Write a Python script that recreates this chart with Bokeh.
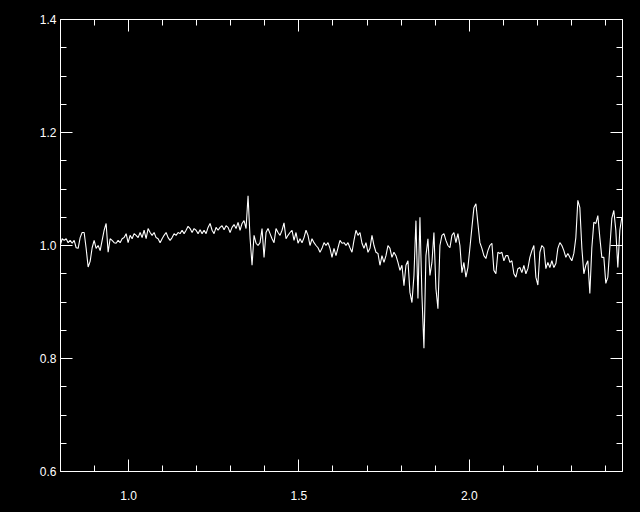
import numpy as np
from bokeh.plotting import figure
from bokeh.models import Range1d, LinearAxis, FixedTicker, PrintfTickFormatter, CustomJSTickFormatter
from bokeh.embed import file_html
from bokeh.resources import INLINE

# ---- data ----
wave_start = 0.799
wave_end = 2.448
flux = [
    1.000, 1.012, 1.009, 1.012, 1.005, 1.009, 1.004, 1.009, 0.996, 0.995,
    1.014, 1.023, 1.023, 0.995, 0.962, 0.972, 0.996, 1.009, 0.995, 1.000,
    0.991, 1.009, 1.027, 1.039, 0.988, 1.012, 1.009, 1.005, 1.004, 1.009,
    1.005, 1.012, 1.014, 1.021, 1.005, 1.018, 1.012, 1.021, 1.018, 1.014,
    1.023, 1.014, 1.027, 1.012, 1.030, 1.023, 1.018, 1.023, 1.014, 1.012,
    1.005, 1.012, 1.018, 1.023, 1.014, 1.009, 1.014, 1.021, 1.018, 1.023,
    1.021, 1.027, 1.021, 1.027, 1.034, 1.030, 1.023, 1.030, 1.027, 1.021,
    1.028, 1.021, 1.027, 1.021, 1.032, 1.039, 1.027, 1.021, 1.032, 1.027,
    1.032, 1.035, 1.028, 1.035, 1.032, 1.023, 1.032, 1.037, 1.030, 1.041,
    1.027, 1.039, 1.044, 1.030, 1.088, 1.014, 0.965, 1.018, 1.004, 1.000,
    1.005, 1.030, 0.979, 1.023, 1.030, 1.021, 1.012, 1.005, 1.030, 1.023,
    1.018, 1.027, 1.040, 1.012, 1.018, 1.023, 1.027, 1.009, 1.023, 1.004,
    1.012, 1.005, 1.014, 1.027, 1.018, 1.000, 1.012, 1.005, 1.000, 0.996,
    0.988, 0.995, 1.005, 1.000, 1.005, 0.995, 0.979, 0.995, 0.982, 0.996,
    1.009, 1.004, 1.005, 1.000, 1.005, 0.996, 0.988, 1.009, 1.027, 1.018,
    1.023, 1.004, 0.995, 1.005, 0.988, 0.995, 1.018, 1.000, 0.988, 0.986,
    0.965, 0.982, 0.970, 0.982, 1.000, 0.995, 0.979, 0.988, 0.982, 0.970,
    0.956, 0.965, 0.929, 0.965, 0.973, 0.917, 0.899, 0.947, 1.044, 0.906,
    1.050, 0.912, 0.818, 0.982, 1.012, 0.947, 0.970, 1.023, 0.924, 0.888,
    1.000, 1.018, 1.021, 1.009, 1.000, 0.996, 1.018, 1.023, 1.005, 1.021,
    1.000, 0.952, 0.970, 0.944, 0.961, 0.996, 1.032, 1.067, 1.074, 1.039,
    1.005, 0.995, 0.982, 0.977, 0.991, 1.000, 1.004, 0.956, 0.950, 0.988,
    0.986, 0.988, 0.973, 0.982, 0.982, 0.970, 0.973, 0.950, 0.944, 0.959,
    0.961, 0.952, 0.965, 0.950, 0.959, 0.979, 0.991, 1.000, 0.944, 0.930,
    0.988, 1.000, 0.996, 0.959, 0.970, 0.961, 0.973, 0.961, 0.968, 0.995,
    1.005, 1.000, 0.991, 0.979, 0.986, 0.979, 0.973, 0.986, 1.014, 1.080,
    1.067, 0.996, 0.950, 0.965, 0.973, 0.915, 0.996, 1.041, 1.039, 1.053,
    1.014, 0.979, 0.979, 0.933, 0.944, 0.996, 1.048, 1.062, 1.027, 0.961,
    1.027, 1.050,
]
wavelength = np.linspace(wave_start, wave_end, len(flux))

x_major = [1.0, 1.5, 2.0]
x_minor = [0.8, 0.9, 1.1, 1.2, 1.3, 1.4, 1.6, 1.7, 1.8, 1.9, 2.1, 2.2, 2.3, 2.4]
y_major = [0.6, 0.8, 1.0, 1.2, 1.4]
y_minor = [0.65, 0.7, 0.75, 0.85, 0.9, 0.95, 1.05, 1.1, 1.15, 1.25, 1.3, 1.35]

FONT = "Liberation Sans"

p = figure(
    frame_width=562, frame_height=452,
    min_border_left=60, min_border_right=18, min_border_top=19, min_border_bottom=41,
    x_range=Range1d(0.8, 2.45), y_range=Range1d(0.6, 1.4),
    output_backend="svg", toolbar_location=None,
    background_fill_color="black", border_fill_color="black",
    x_axis_type=None, y_axis_type=None,
)
p.outline_line_color = "white"
p.outline_line_width = 1
p.xgrid.visible = False
p.ygrid.visible = False


def style(ax, show_labels, standoff):
    ax.axis_line_color = "white"
    ax.major_tick_line_color = "white"
    ax.minor_tick_line_color = "white"
    ax.major_tick_in = 12
    ax.major_tick_out = 0
    ax.minor_tick_in = 6
    ax.minor_tick_out = 0
    ax.major_label_text_color = "white"
    ax.major_label_text_font = FONT
    ax.major_label_standoff = standoff
    ax.major_label_text_font_size = "12px"
    if show_labels:
        ax.formatter = PrintfTickFormatter(format="%.1f")
    else:
        ax.formatter = CustomJSTickFormatter(code="return ''")


xt = FixedTicker(ticks=x_major, minor_ticks=x_minor)
yt = FixedTicker(ticks=y_major, minor_ticks=y_minor)

bottom = LinearAxis(ticker=xt)
style(bottom, True, 19)
top = LinearAxis(ticker=xt)
style(top, False, 0)
left = LinearAxis(ticker=yt)
style(left, True, 4)
right = LinearAxis(ticker=yt)
style(right, False, 0)

p.add_layout(bottom, "below")
p.add_layout(top, "above")
p.add_layout(left, "left")
p.add_layout(right, "right")

p.line(wavelength, flux, line_color="white", line_width=1.1)

html = file_html(p, INLINE)
html = html.replace("<head>", "<head><style>html,body{background:#000;}</style>", 1)
open("out.html", "w").write(html)
